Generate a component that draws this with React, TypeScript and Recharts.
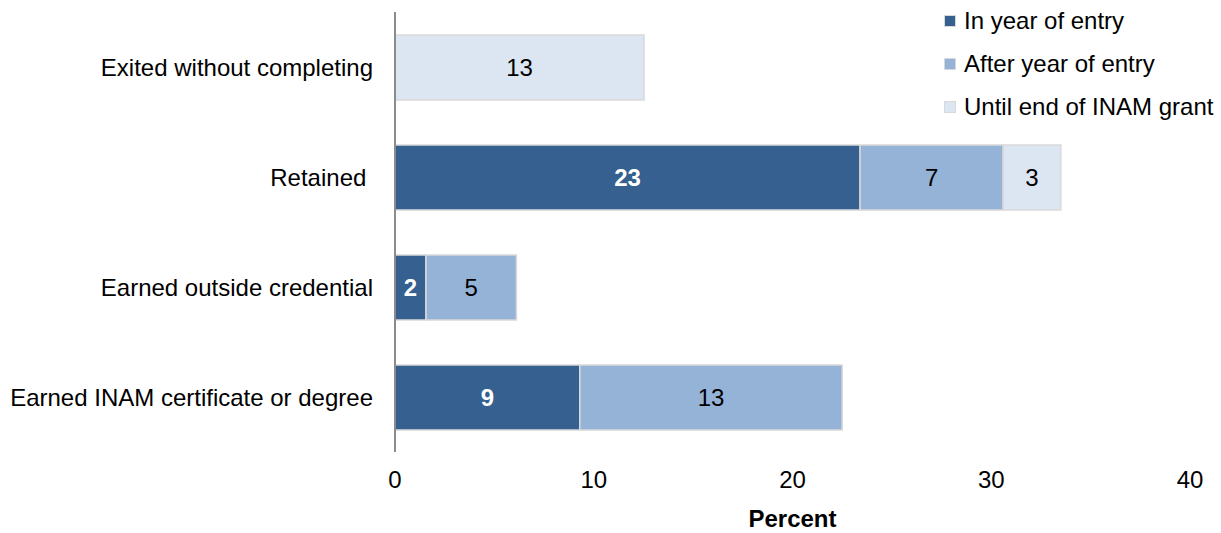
import { BarChart, Bar, XAxis, YAxis, LabelList } from 'recharts';

const categories = [
  'Exited without completing',
  'Retained\u00a0',
  'Earned outside credential',
  'Earned INAM certificate or degree',
];
const inYearOfEntry = [null, 23.4, 1.56, 9.3];
const afterYearOfEntry = [null, 7.2, 4.55, 13.2];
const untilEndOfGrant = [12.53, 2.9, null, null];
const xTicks = [0, 10, 20, 30, 40];

const series = [
  { key: 'inYear', name: 'In year of entry', color: '#36608f', labelColor: '#ffffff', bold: true },
  { key: 'afterYear', name: 'After year of entry', color: '#95b3d7', labelColor: '#000000', bold: false },
  { key: 'untilEnd', name: 'Until end of INAM grant', color: '#dce6f2', labelColor: '#000000', bold: false },
];

const data = categories.map((name, i) => ({
  name,
  inYear: inYearOfEntry[i],
  afterYear: afterYearOfEntry[i],
  untilEnd: untilEndOfGrant[i],
}));

const FONT = "'Liberation Sans', Arial, sans-serif";

// legend sits over the top-right corner, it doesn't take room from the plot
function LegendBox() {
  return (
    <div
      style={{
        position: 'absolute',
        left: 944,
        top: -1,
        fontFamily: FONT,
        fontSize: 24,
        color: '#000',
      }}
    >
      {series.map((s) => (
        <div key={s.key} style={{ display: 'flex', alignItems: 'center', height: 43 }}>
          <span
            style={{
              display: 'inline-block',
              width: 10,
              height: 10,
              background: s.color,
              border: '1px solid #d9d9d9',
              marginRight: 8,
            }}
          />
          <span>{s.name}</span>
        </div>
      ))}
    </div>
  );
}

export default function App() {
  return (
    <div style={{ position: 'absolute', left: 0, top: 0, width: 1221, height: 533, background: '#fff' }}>
      <BarChart
        width={1221}
        height={533}
        data={data}
        layout="vertical"
        margin={{ top: 12, right: 31, left: 0, bottom: 0 }}
      >
        <XAxis
          type="number"
          domain={[0, 40]}
          ticks={xTicks}
          axisLine={false}
          tickLine={false}
          tickMargin={13}
          height={81}
          tick={{ fill: '#000', fontSize: 24, fontFamily: FONT }}
          label={{
            value: 'Percent',
            position: 'insideBottom',
            offset: 6,
            style: { fill: '#000', fontSize: 24, fontWeight: 'bold', fontFamily: FONT },
          }}
        />
        <YAxis
          type="category"
          dataKey="name"
          width={395}
          axisLine={{ stroke: '#8c8c8c', strokeWidth: 2 }}
          tickLine={false}
          tickMargin={16}
          tick={{ fill: '#000', fontSize: 24, fontFamily: FONT }}
        />
        {series.map((s) => (
          <Bar
            key={s.key}
            dataKey={s.key}
            name={s.name}
            stackId="a"
            fill={s.color}
            stroke="#d9d9d9"
            strokeWidth={1.5}
            barSize={65}
            isAnimationActive={false}
          >
            <LabelList
              dataKey={s.key}
              position="center"
              formatter={(v: any) => (v ? Math.round(v) : '')}
              style={{
                fill: s.labelColor,
                fontSize: 24,
                fontWeight: s.bold ? 'bold' : 'normal',
                fontFamily: FONT,
              }}
            />
          </Bar>
        ))}
      </BarChart>
      <LegendBox />
    </div>
  );
}
